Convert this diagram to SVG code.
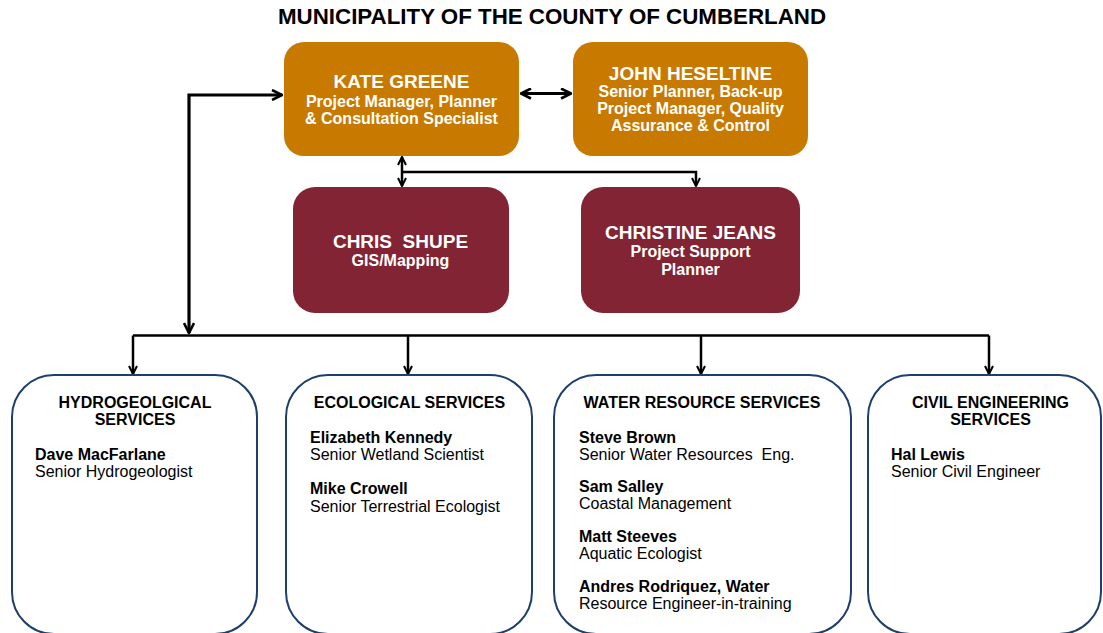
<svg xmlns="http://www.w3.org/2000/svg" width="1103" height="633" viewBox="0 0 1103 633">
<defs>
<style>
text{font-family:"Liberation Sans",Arial,sans-serif;}
.title{font-size:22px;font-weight:bold;fill:#000;text-anchor:middle;}
.nm{font-size:19px;font-weight:bold;fill:#fff;text-anchor:middle;}
.sb{font-size:16px;font-weight:bold;fill:#fff;text-anchor:middle;}
.hd{font-size:16px;font-weight:bold;fill:#000;text-anchor:middle;}
.pn{font-size:16px;font-weight:bold;fill:#000;}
.pr{font-size:16px;fill:#000;}
.org{fill:#C87A00;}
.mar{fill:#822433;}
.svc{fill:#fff;stroke:#1F3F6B;stroke-width:2;}
.ln{fill:none;stroke:#000;stroke-width:2.5;}
.lnb{fill:none;stroke:#000;stroke-width:3.2;}
</style>
<marker id="ah" viewBox="0 0 10 10" refX="9" refY="5" markerWidth="10" markerHeight="10" markerUnits="userSpaceOnUse" orient="auto-start-reverse">
<path d="M1,1 L9,5 L1,9" fill="none" stroke="#000" stroke-width="2"/>
</marker>
<marker id="ahb" viewBox="0 0 12 12" refX="11" refY="6" markerWidth="12" markerHeight="12" markerUnits="userSpaceOnUse" orient="auto-start-reverse">
<path d="M1,1 L11,6 L1,11" fill="none" stroke="#000" stroke-width="2.6"/>
</marker>
</defs>
<rect width="1103" height="633" fill="#fff"/>
<text class="title" x="552" y="24" textLength="548" lengthAdjust="spacingAndGlyphs">MUNICIPALITY OF THE COUNTY OF CUMBERLAND</text>

<g id="connectors">
<path class="lnb" d="M282,95 H189 V333" marker-start="url(#ahb)" marker-end="url(#ahb)"/>
<path class="lnb" d="M521,93.5 H571" marker-start="url(#ahb)" marker-end="url(#ahb)"/>
<path class="ln" d="M402,157 V186" marker-start="url(#ah)" marker-end="url(#ah)"/>
<path class="ln" d="M402,172 H696 V186" marker-end="url(#ah)"/>
<path class="ln" d="M133,335.5 H989"/>
<path class="ln" d="M133,335.5 V374" marker-end="url(#ah)"/>
<path class="ln" d="M408,335.5 V374" marker-end="url(#ah)"/>
<path class="ln" d="M701,335.5 V374" marker-end="url(#ah)"/>
<path class="ln" d="M989,335.5 V374" marker-end="url(#ah)"/>
</g>

<g id="kate-greene">
<rect class="org" x="284" y="42" width="235" height="114" rx="20"/>
<text class="nm" x="401.5" y="88">KATE GREENE</text>
<text class="sb" x="401.5" y="107">Project Manager, Planner</text>
<text class="sb" x="401.5" y="124">&amp; Consultation Specialist</text>
</g>

<g id="john-heseltine">
<rect class="org" x="573" y="42" width="235" height="114" rx="20"/>
<text class="nm" x="690.5" y="80">JOHN HESELTINE</text>
<text class="sb" x="690.5" y="97">Senior Planner, Back-up</text>
<text class="sb" x="690.5" y="114">Project Manager, Quality</text>
<text class="sb" x="690.5" y="131">Assurance &amp; Control</text>
</g>

<g id="chris-shupe">
<rect class="mar" x="293" y="187" width="216" height="126" rx="22"/>
<text class="nm" x="400.5" y="248" xml:space="preserve">CHRIS  SHUPE</text>
<text class="sb" x="400.5" y="266">GIS/Mapping</text>
</g>

<g id="christine-jeans">
<rect class="mar" x="581" y="187" width="219" height="126" rx="22"/>
<text class="nm" x="690.5" y="239">CHRISTINE JEANS</text>
<text class="sb" x="690.5" y="257">Project Support</text>
<text class="sb" x="690.5" y="275">Planner</text>
</g>

<g id="hydrogeological-services">
<rect class="svc" x="12" y="375" width="245" height="259" rx="42"/>
<text class="hd" x="135" y="408">HYDROGEOLGICAL</text>
<text class="hd" x="135" y="425">SERVICES</text>
<text class="pn" x="35" y="460">Dave MacFarlane</text>
<text class="pr" x="35" y="477">Senior Hydrogeologist</text>
</g>

<g id="ecological-services">
<rect class="svc" x="286" y="375" width="246" height="259" rx="42"/>
<text class="hd" x="409.5" y="408">ECOLOGICAL SERVICES</text>
<text class="pn" x="310" y="443">Elizabeth Kennedy</text>
<text class="pr" x="310" y="460">Senior Wetland Scientist</text>
<text class="pn" x="310" y="494">Mike Crowell</text>
<text class="pr" x="310" y="512">Senior Terrestrial Ecologist</text>
</g>

<g id="water-resource-services">
<rect class="svc" x="554" y="375" width="297" height="259" rx="42"/>
<text class="hd" x="702" y="408">WATER RESOURCE SERVICES</text>
<text class="pn" x="579" y="443">Steve Brown</text>
<text class="pr" x="579" y="460" xml:space="preserve">Senior Water Resources  Eng.</text>
<text class="pn" x="579" y="492">Sam Salley</text>
<text class="pr" x="579" y="509">Coastal Management</text>
<text class="pn" x="579" y="542">Matt Steeves</text>
<text class="pr" x="579" y="559">Aquatic Ecologist</text>
<text class="pn" x="579" y="592">Andres Rodriquez, Water</text>
<text class="pr" x="579" y="609">Resource Engineer-in-training</text>
</g>

<g id="civil-engineering-services">
<rect class="svc" x="868" y="375" width="233" height="259" rx="42"/>
<text class="hd" x="990.5" y="408">CIVIL ENGINEERING</text>
<text class="hd" x="990.5" y="425">SERVICES</text>
<text class="pn" x="891" y="460">Hal Lewis</text>
<text class="pr" x="891" y="477">Senior Civil Engineer</text>
</g>
</svg>
